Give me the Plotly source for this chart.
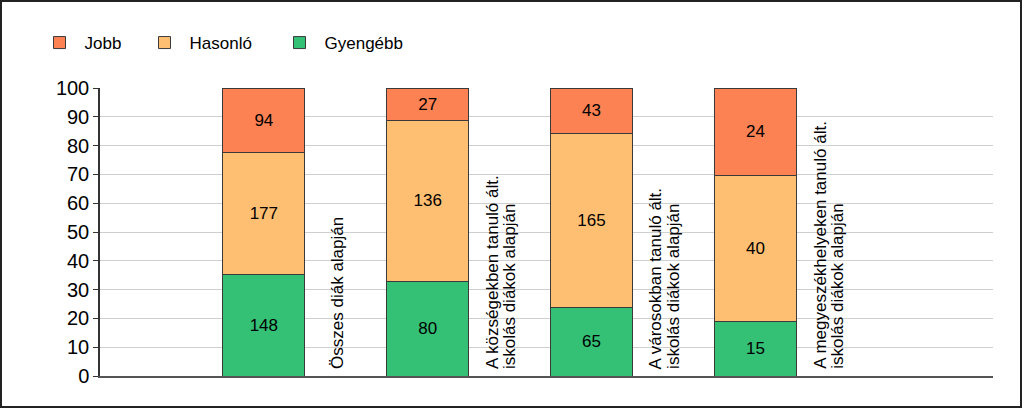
import plotly.graph_objects as go

categories = [1, 2, 3, 4]
category_label_lines = [
    ["Összes diák alapján"],
    ["A községekben tanuló ált.", "iskolás diákok alapján"],
    ["A városokban tanuló ált.", "iskolás diákok alapján"],
    ["A megyeszékhelyeken tanuló ált.", "iskolás diákok alapján"],
]
series_names = ["Gyengébb", "Hasonló", "Jobb"]
gyengebb = [148, 80, 65, 15]
hasonlo = [177, 136, 165, 40]
jobb = [94, 27, 43, 24]
colors = {"Gyengébb": "#34C176", "Hasonló": "#FFBF72", "Jobb": "#FC8254"}
ticks = [0, 10, 20, 30, 40, 50, 60, 70, 80, 90, 100]

FONT = "Liberation Sans, Arial, sans-serif"

fig = go.Figure()
ranks = {"Jobb": 1, "Hasonló": 2, "Gyengébb": 3}
lwidths = {"Jobb": 50, "Hasonló": 80, "Gyengébb": 90}
for name, vals in zip(series_names, [gyengebb, hasonlo, jobb]):
    fig.add_trace(go.Bar(
        x=categories, y=vals, name=name,
        text=vals, textposition="inside", insidetextanchor="middle",
        textfont=dict(family=FONT, size=17, color="black"),
        marker=dict(color=colors[name], line=dict(color="#3a3a3a", width=1)),
        width=0.5, legendrank=ranks[name], legendwidth=lwidths[name],
        hoverinfo="skip",
    ))

LINE_PX = 17.5
for c, lines in zip(categories, category_label_lines):
    n = len(lines)
    for i, line in enumerate(lines):
        fig.add_annotation(
            x=c + 0.446, y=0, xref="x", yref="y", text=line, textangle=-90,
            showarrow=False, xanchor="center", yanchor="bottom",
            xshift=(i - (n - 1) / 2) * LINE_PX, yshift=5,
            font=dict(family=FONT, size=17, color="black"),
        )

# outer frame of the chart image
fig.add_shape(type="rect", xref="paper", yref="paper",
              x0=(1 - 100) / 893, x1=(1021 - 100) / 893,
              y0=(376 - 407) / 288, y1=(376 - 1) / 288,
              line=dict(color="#222222", width=2), layer="below")

fig.update_layout(
    width=1024, height=410,
    margin=dict(l=100, r=31, t=88, b=34),
    paper_bgcolor="white", plot_bgcolor="white",
    barmode="stack", barnorm="percent",
    font=dict(family=FONT, color="black"),
    showlegend=True,
    legend=dict(orientation="h", x=(34.5 - 100) / 893, xanchor="left",
                y=(376 - 25) / 288, yanchor="top", itemwidth=40,
                traceorder="normal", font=dict(family=FONT, size=17)),
    xaxis=dict(range=[0, 5.45], showticklabels=False, ticks="", showgrid=False,
               zeroline=False, showline=True, linecolor="#555555", linewidth=1.5),
    yaxis=dict(range=[0, 100], tickvals=ticks, showgrid=True, gridcolor="#CFCFCF",
               gridwidth=1, zeroline=False, showline=True, linecolor="#333333",
               linewidth=1.5, ticks="outside", ticklen=5, tickcolor="#333333",
               tickfont=dict(family=FONT, size=20, color="black")),
)

fig.write_html(
    "out.html",
    config={"displayModeBar": False},
    post_script="document.body.style.margin='0';document.body.style.overflow='hidden';",
)
